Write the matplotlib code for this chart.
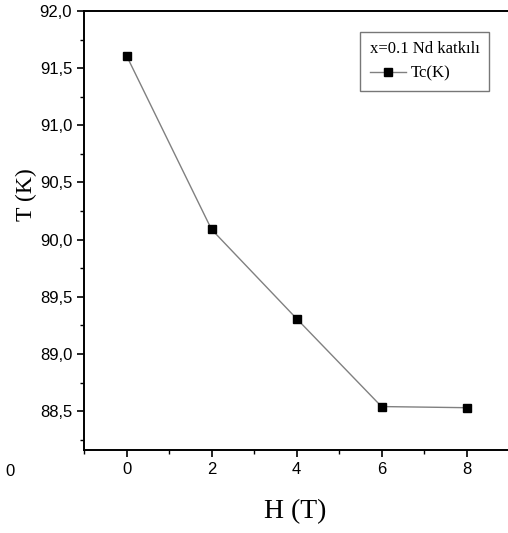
import matplotlib.pyplot as plt
from matplotlib.ticker import FuncFormatter, MultipleLocator

# Veriler
H = [0, 2, 4, 6, 8]
Tc = [91.61, 90.09, 89.31, 88.54, 88.53]
xticks = [0, 2, 4, 6, 8]
yticks = [88.5, 89.0, 89.5, 90.0, 90.5, 91.0, 91.5, 92.0]

serif = ['Liberation Serif', 'DejaVu Serif']
narrow = ['Liberation Sans Narrow', 'Liberation Sans', 'DejaVu Sans']

fig = plt.figure(figsize=(5.08, 5.33), dpi=100)
ax = fig.add_axes([84 / 508, 1 - 450 / 533, 1 - 84 / 508 + 0.002, (450 - 11) / 533])

ax.plot(H, Tc, color='#808080', lw=1.0, marker='s', markersize=6,
        markerfacecolor='black', markeredgecolor='black', label='Tc(K)')

ax.set_xlim(-1, 9)
ax.set_ylim(88.16, 92.0)
ax.set_xticks(xticks)
ax.set_yticks(yticks)
ax.xaxis.set_minor_locator(MultipleLocator(1))
ax.yaxis.set_minor_locator(MultipleLocator(0.25))
ax.yaxis.set_major_formatter(FuncFormatter(lambda v, p: f"{v:.1f}".replace('.', ',')))

ax.tick_params(which='major', direction='out', length=5, width=1.2)
ax.tick_params(which='minor', direction='out', length=3, width=1.0)
ax.tick_params(top=False, right=False)
for lab in ax.get_xticklabels() + ax.get_yticklabels():
    lab.set_family(narrow)
    lab.set_fontsize(12)

for s in ['left', 'bottom', 'top']:
    ax.spines[s].set_linewidth(1.4)
ax.spines['right'].set_visible(False)

ax.set_xlabel('H (T)', family=serif, fontsize=20)
ax.set_ylabel('T (K)', family=serif, fontsize=17)
ax.xaxis.set_label_coords((295 - 84) / 424, -(512 - 450) / 439)
ax.yaxis.set_label_coords(-(84 - 27) / 424, (450 - 195) / 439)
ax.xaxis.label.set_va('center')
ax.yaxis.label.set_va('center')

leg = ax.legend(title='x=0.1 Nd katkılı', loc='upper right',
                bbox_to_anchor=(0.952, 0.952), fancybox=False,
                prop={'family': serif, 'size': 12}, handlelength=2.2,
                borderaxespad=0, borderpad=0.55, handletextpad=0.3,
                labelspacing=0.5)
leg.get_title().set_family(serif)
leg.get_title().set_fontsize(12)
leg.get_frame().set_edgecolor('#555555')
leg.get_frame().set_linewidth(1.0)
leg._legend_box.align = 'left'
leg._legend_box.sep = 6

# kesilmiş komşu grafikten kalan etiket
fig.text(10 / 508, 1 - 471 / 533, '0', family=narrow, fontsize=12,
         ha='center', va='center')

fig.savefig('out.png', dpi=100)
